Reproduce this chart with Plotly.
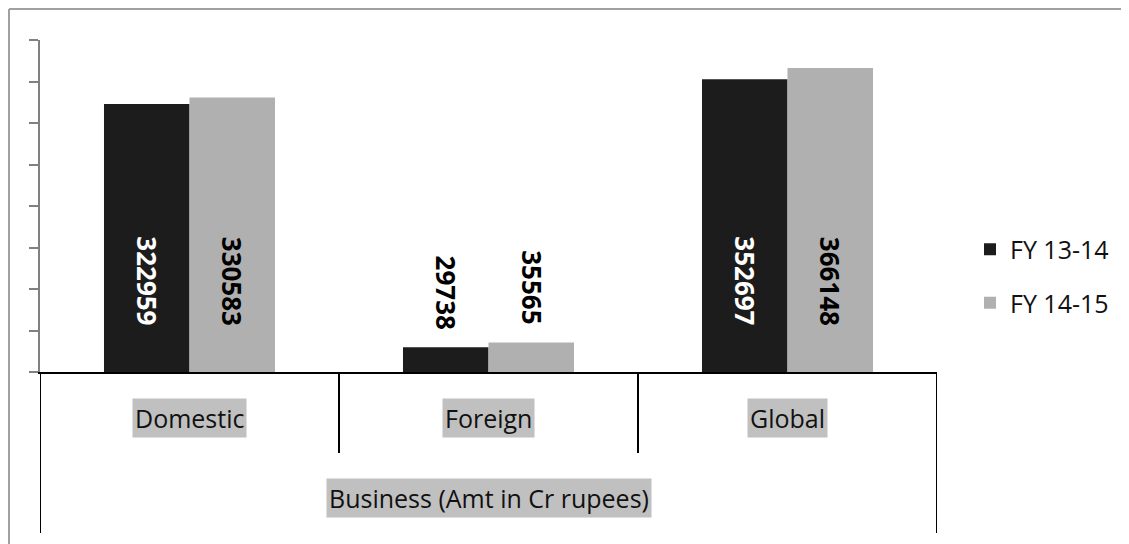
import plotly.graph_objects as go

categories = ["Domestic", "Foreign", "Global"]
series_names = ["FY 13-14", "FY 14-15"]
fy1314 = [322959, 29738, 352697]
fy1415 = [330583, 35565, 366148]
axis_title = "Business (Amt in Cr rupees)"

colors = ["#1c1c1c", "#b0b0b0"]
label_colors = ["white", "black"]
FONT = "Open Sans"

fig = go.Figure()
for name, vals, col in zip(series_names, [fy1314, fy1415], colors):
    fig.add_trace(go.Bar(x=categories, y=vals, name=name, marker_color=col,
                         marker_line_width=0, legendgroup=name))

OFF = 8  # page body margin
W, H = 1121, 536
L, T = 40 - OFF, 40 - OFF
plot_w = 937 - 40
plot_h = 372 - 40
R = W - L - plot_w
B = H - T - plot_h

# convert reference screen pixel -> paper coords
px = lambda p: (p - OFF - L) / plot_w
py = lambda p: (T + plot_h - (p - OFF)) / plot_h

annotations = []
n = len(series_names)
group_w = 1 - 0.428
bar_w = group_w / n
for si, vals in enumerate([fy1314, fy1415]):
    for ci, v in enumerate(vals):
        xpos = ci - group_w / 2 + bar_w * (si + 0.5)
        if v > 100000:
            annotations.append(dict(x=xpos, y=109600, xref="x", yref="y", text=f"<b>{v}</b>",
                                    textangle=90, showarrow=False, yanchor="middle",
                                    font=dict(family=FONT, size=26, color=label_colors[si])))
        else:
            annotations.append(dict(x=xpos, y=v, xref="x", yref="y", text=f"<b>{v}</b>",
                                    textangle=90, showarrow=False, yanchor="bottom", yshift=16,
                                    font=dict(family=FONT, size=26, color="black")))

for ci, c in enumerate(categories):
    annotations.append(dict(x=ci, y=py(418), xref="x", yref="paper", text=c, showarrow=False,
                            bgcolor="#c0c0c0", borderpad=2, yanchor="middle",
                            font=dict(family=FONT, size=25, color="#111111")))
annotations.append(dict(x=1, y=py(498), xref="x", yref="paper", text=axis_title,
                        showarrow=False, bgcolor="#c0c0c0", borderpad=2, yanchor="middle",
                        font=dict(family=FONT, size=25, color="#111111")))

shapes = []
for xb in [-0.5, 0.5, 1.5, 2.5]:
    y1 = py(533) if xb in (-0.5, 2.5) else py(453)
    shapes.append(dict(type="line", xref="x", yref="paper", x0=xb, x1=xb, y0=0, y1=y1,
                       line=dict(color="black", width=2)))
# outer chart border (top and left edges)
shapes.append(dict(type="line", xref="paper", yref="paper", x0=px(9), x1=px(1140), y0=py(9), y1=py(9),
                   line=dict(color="#a0a0a0", width=2)))
shapes.append(dict(type="line", xref="paper", yref="paper", x0=px(9), x1=px(9), y0=py(9), y1=py(560),
                   line=dict(color="#a0a0a0", width=2)))

fig.update_layout(
    width=W, height=H,
    margin=dict(l=L, r=R, t=T, b=B),
    paper_bgcolor="white", plot_bgcolor="white",
    barmode="group", bargap=0.428, bargroupgap=0,
    font=dict(family=FONT, size=25, color="#111111"),
    xaxis=dict(range=[-0.5, 2.5], showticklabels=False, ticks="", showgrid=False,
               showline=True, linecolor="black", linewidth=2, zeroline=False, fixedrange=True),
    yaxis=dict(range=[0, 400000], dtick=50000, ticks="outside", ticklen=9, tickwidth=2,
               tickcolor="#808080", showticklabels=False, showgrid=False, showline=True,
               linecolor="#808080", linewidth=2, zeroline=False),
    legend=dict(x=px(970), xanchor="left", y=py(276), yanchor="middle",
                font=dict(family=FONT, size=25, color="#111111"), tracegroupgap=18,
                bgcolor="rgba(0,0,0,0)"),
    annotations=annotations, shapes=shapes,
    showlegend=True,
)
fig.write_html("out.html")
